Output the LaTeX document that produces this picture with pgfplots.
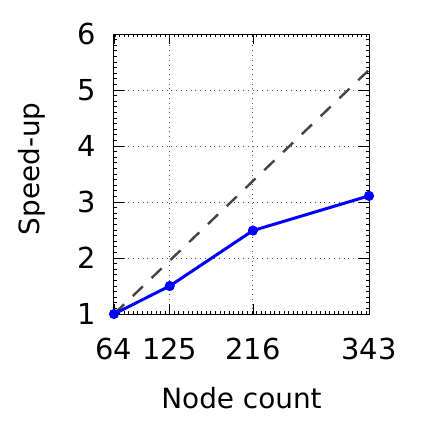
\documentclass[border=0pt]{standalone}
\usepackage{fontspec}
\setmainfont{DejaVu Sans}
\usepackage{pgfplots}
\pgfplotsset{compat=1.18}
\definecolor{ideal}{RGB}{68,68,68}

\begin{document}
\begin{tikzpicture}
\begin{axis}[
    scale only axis,
    width=127.5bp, height=140bp,
    xmin=64, xmax=343,
    ymin=1, ymax=6,
    xtick={64,125,216,343},
    ytick={1,2,3,4,5,6},
    minor xtick={65,70,...,340},
    minor y tick num=9,
    tick align=inside,
    major tick length=5bp,
    minor tick length=1.5bp,
    axis line style={line width=0.5bp},
    every tick/.style={black, line width=0.4bp},
    grid=major,
    major grid style={dotted, black!70, line width=0.5bp},
    font=\fontsize{14}{16}\selectfont,
    tick label style={font=\fontsize{14.5}{16}\selectfont},
    /pgf/number format/assume math mode=true,
    xticklabel style={anchor=north, inner sep=0pt, yshift=-12bp},
    yticklabel style={anchor=east, inner sep=0pt, xshift=-9bp},
    xlabel={Node count},
    ylabel={Speed-up},
    xlabel style={at={(axis description cs:0.5,-0.339)}, anchor=base, inner sep=0pt},
    ylabel style={at={(axis description cs:-0.322,0.518)}, anchor=center, inner sep=0pt},
]
    \addplot[ideal, line width=1.2bp, dash pattern=on 7bp off 6bp] coordinates {(64,1) (343,5.359)};
    \addplot[blue, line width=1.5bp, mark=*, mark size=1.75bp] coordinates {(64,1) (125,1.5) (216,2.49) (343,3.11)};
\end{axis}
\path (current axis.south west) ++(-57bp,-54.5bp) rectangle ++(211.5bp,211.5bp);
\end{tikzpicture}
\end{document}
